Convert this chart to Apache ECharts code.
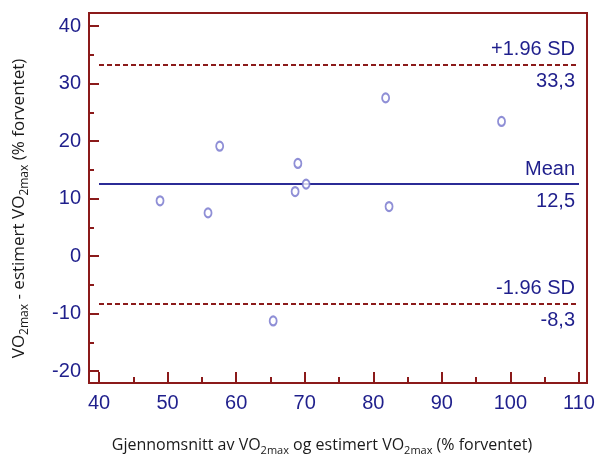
<!DOCTYPE html>
<html lang="en">
<head>
    <meta charset="UTF-8">
    <title>Bland-Altman</title>
    <script src="https://cdn.jsdelivr.net/npm/echarts@6/dist/echarts.min.js"></script>
    <style>
        html, body { margin: 0; padding: 0; background: #fff; }
        #chart { width: 597px; height: 454px; }
    </style>
</head>
<body>
<div id="chart"></div>
<script type="text/javascript">
// gjennomsnitt (x) og differanse (y), lest av figuren
var meanVals = [48.9, 57.6, 55.9, 69.0, 68.6, 70.2, 81.8, 98.7, 82.3, 65.4];
var diffVals = [9.6, 19.1, 7.5, 16.1, 11.2, 12.5, 27.5, 23.4, 8.6, -11.3];

// grenser
var upperSD = 33.3;
var meanDiff = 12.5;
var lowerSD = -8.3;
var lineNames = ['+1.96 SD', 'Mean', '-1.96 SD'];
var lineTexts = ['33,3', '12,5', '-8,3'];

var xTicks = [40, 110, 10];   // min, max, interval
var yTicks = [-20, 40, 10];

var red = '#8b1a1a';
var navy = '#1f1f8c';
var font = 'Liberation Sans';

var points = [];
for (var i = 0; i < meanVals.length; i++) {
    points.push([meanVals[i], diffVals[i]]);
}

function limitLine(value, name, txt, style) {
    return [
        {yAxis: value, lineStyle: style,
            label: {show: true, position: 'insideEndTop', formatter: name, distance: [4, 5]}},
        {yAxis: value, lineStyle: {color: 'rgba(0,0,0,0)', width: 1, type: 'solid'},
            label: {show: true, position: 'insideEndBottom', formatter: txt, distance: [4, 7]}}
    ];
}

var dashed = {color: red, type: [5, 3], width: 2};
var solid = {color: '#2b2b96', type: 'solid', width: 2};

var lineData = []
    .concat(limitLine(upperSD, lineNames[0], lineTexts[0], dashed))
    .concat(limitLine(meanDiff, lineNames[1], lineTexts[1], solid))
    .concat(limitLine(lowerSD, lineNames[2], lineTexts[2], dashed));

var chart = echarts.init(document.getElementById('chart'), null, {renderer: 'canvas'});

function nameStyle(size, pad) {
    return {
        fontFamily: 'Open Sans',
        fontSize: size,
        color: '#1a1a1a',
        lineHeight: size + 6,
        padding: pad,
        rich: {
            sub: {fontFamily: 'Open Sans', fontSize: Math.round(size * 0.68), verticalAlign: 'bottom',
                lineHeight: size + 6, color: '#1a1a1a'}
        }
    };
}

var option = {
    animation: false,
    backgroundColor: '#fff',
    grid: [
        {left: 99, right: 18, top: 26, bottom: 83, outerBoundsMode: 'none'},
        {left: 89, right: 10, top: 13, bottom: 71, outerBoundsMode: 'none',
            show: true, borderColor: red, borderWidth: 2, z: 0}
    ],
    xAxis: [{
        type: 'value',
        gridIndex: 0,
        min: xTicks[0], max: xTicks[1], interval: xTicks[2],
        offset: 12,
        axisLine: {show: false, onZero: false},
        axisTick: {show: true, inside: true, length: 11, lineStyle: {color: red, width: 2}},
        minorTick: {show: true, splitNumber: 2, length: 6, lineStyle: {color: red, width: 2}},
        splitLine: {show: false},
        axisLabel: {color: navy, fontFamily: font, fontSize: 20, margin: 10},
        name: 'Gjennomsnitt av VO{sub|2max} og estimert VO{sub|2max} (% forventet)',
        nameLocation: 'middle',
        nameGap: 51,
        nameTextStyle: nameStyle(16, [0, 34, 0, 0])
    }, {
        type: 'value', gridIndex: 1, show: false, min: 0, max: 1
    }],
    yAxis: [{
        type: 'value',
        gridIndex: 0,
        min: yTicks[0], max: yTicks[1], interval: yTicks[2],
        offset: 10,
        axisLine: {show: false, onZero: false},
        axisTick: {show: true, inside: true, length: 10, lineStyle: {color: red, width: 2}},
        minorTick: {show: true, splitNumber: 2, length: 5, lineStyle: {color: red, width: 2}},
        splitLine: {show: false},
        axisLabel: {color: navy, fontFamily: font, fontSize: 20, margin: 8},
        name: 'VO{sub|2max} - estimert VO{sub|2max} (% forventet)',
        nameLocation: 'middle',
        nameGap: 58,
        nameTextStyle: nameStyle(17, [0, 20, 0, 0])
    }, {
        type: 'value', gridIndex: 1, show: false, min: 0, max: 1
    }],
    series: [{
        type: 'scatter',
        xAxisIndex: 0,
        yAxisIndex: 0,
        data: points,
        symbol: 'emptyCircle',
        symbolSize: [7, 9],
        itemStyle: {color: '#7373cc', borderWidth: 1.2},
        z: 5,
        markLine: {
            silent: true,
            symbol: ['none', 'none'],
            label: {color: navy, fontFamily: font, fontSize: 20},
            data: lineData
        }
    }]
};

chart.setOption(option);
</script>
</body>
</html>
